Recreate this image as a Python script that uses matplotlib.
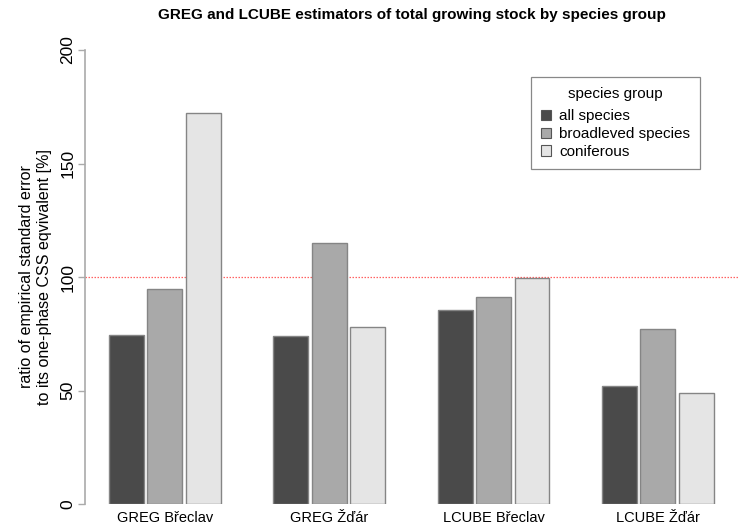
#!/usr/bin/env python3

import numpy as np
import matplotlib
matplotlib.use("Agg")
import matplotlib.pyplot as plt
from matplotlib.patches import Patch

groups = ["GREG Břeclav", "GREG Žďár", "LCUBE Břeclav", "LCUBE Žďár"]
series = ["all species", "broadleved species", "coniferous"]
all_species = [74.5, 73.8, 85.6, 52.0]
broadleved = [94.8, 115.0, 91.3, 76.9]
coniferous = [172.2, 77.9, 99.6, 49.0]
colors = ["#4a4a4a", "#a9a9a9", "#e5e5e5"]


def main():
	plt.rcParams["font.family"] = ["Liberation Sans", "DejaVu Sans"]
	fig = plt.figure(figsize=(7.38, 5.24), dpi=100)
	ax = fig.add_axes([85 / 738, 20 / 524, 653 / 738, 454 / 524])

	values = [all_species, broadleved, coniferous]
	n = len(groups)
	# R-like barplot layout: width 1, inner gap 0.1, group gap 1.5
	starts = 1.5 + np.arange(n) * 4.7
	for j in range(3):
		lefts = starts + j * 1.1
		ax.bar(lefts, values[j], width=1.0, align="edge", color=colors[j],
			edgecolor="#858585", linewidth=1.0, zorder=2)

	ax.axhline(100, color="#ff2020", alpha=0.7, linestyle=(0, (1.2, 1.2)), linewidth=0.9, zorder=1)

	ax.set_xlim(0.814, 0.814 + 653 / 34.96)
	ax.set_ylim(0, 200)

	ax.set_xticks(starts + 1.6)
	ax.set_xticklabels(groups, fontsize=10.5)
	ax.tick_params(axis="x", length=0, pad=5)

	ax.set_yticks([0, 50, 100, 150, 200])
	ax.set_yticklabels(["0", "50", "100", "150", "200"], rotation=90, va="center", fontsize=12.5)
	ax.tick_params(axis="y", length=5, width=1, color="#aaaaaa", pad=2)

	for s in ["top", "right", "bottom"]:
		ax.spines[s].set_visible(False)
	ax.spines["left"].set_color("#aaaaaa")
	ax.spines["left"].set_linewidth(1.2)

	fig.text(27 / 738, 1 - 277 / 524, "ratio of empirical standard error",
		rotation=90, ha="center", va="center", fontsize=11.5)
	fig.text(45 / 738, 1 - 277 / 524, "to its one-phase CSS eqvivalent [%]",
		rotation=90, ha="center", va="center", fontsize=11.5)

	handles = [Patch(facecolor=colors[j], edgecolor="#555555", linewidth=0.8) for j in range(3)]
	leg = ax.legend(handles, series, title="species group", loc="upper right",
		bbox_to_anchor=((700 - 85) / 653, (504 - 77) / 454), fontsize=11,
		title_fontsize=11, fancybox=False, edgecolor="#888888", framealpha=1,
		handlelength=0.65, handleheight=0.65, handletextpad=0.55, labelspacing=0.25,
		borderpad=0.65, borderaxespad=0)
	leg.get_frame().set_linewidth(0.9)
	leg._legend_box.sep = 6

	fig.text((85 + 738) / 2 / 738, 1 - 15 / 524,
		"GREG and LCUBE estimators of total growing stock by species group",
		ha="center", va="center", fontsize=11, fontweight="bold")

	fig.savefig("out.png", dpi=100)


if __name__ == "__main__":
	main()
